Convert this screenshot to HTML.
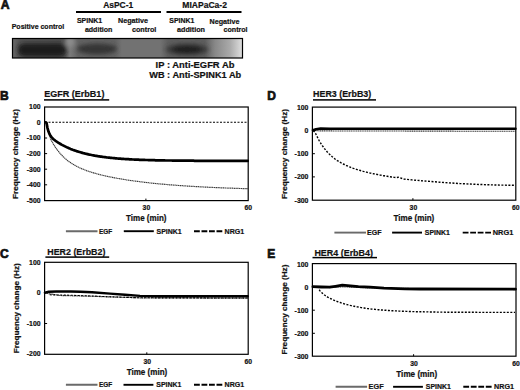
<!DOCTYPE html>
<html><head><meta charset="utf-8"><style>
html,body{margin:0;padding:0;background:#fff;}
body{width:520px;height:390px;overflow:hidden;}
svg{display:block;}
text{font-family:"Liberation Sans", sans-serif;font-weight:bold;fill:#111;stroke:#111;stroke-width:0.2px;}
</style></head><body>
<svg width="520" height="390" viewBox="0 0 520 390">
<rect width="520" height="390" fill="#fff"/>
<text x="0.8" y="9" font-size="12.2" style="stroke-width:0.7px">A</text>
<text x="11.7" y="28.8" font-size="7.3" textLength="52.5" lengthAdjust="spacingAndGlyphs">Positive control</text>
<text x="103.2" y="7.6" font-size="8.8" textLength="30" lengthAdjust="spacingAndGlyphs">AsPC-1</text>
<text x="182.3" y="7.6" font-size="8.8" textLength="44.6" lengthAdjust="spacingAndGlyphs">MIAPaCa-2</text>
<rect x="76" y="11" width="85" height="2" fill="#000"/>
<rect x="166.5" y="11" width="75" height="2" fill="#000"/>
<text x="76.9" y="22.8" font-size="7" textLength="25.3" lengthAdjust="spacingAndGlyphs">SPINK1</text>
<text x="84.9" y="31.7" font-size="7" textLength="27.4" lengthAdjust="spacingAndGlyphs">addition</text>
<text x="118" y="23" font-size="7" textLength="30" lengthAdjust="spacingAndGlyphs">Negative</text>
<text x="132" y="31.7" font-size="7" textLength="24.3" lengthAdjust="spacingAndGlyphs">control</text>
<text x="169.3" y="23.3" font-size="7" textLength="25" lengthAdjust="spacingAndGlyphs">SPINK1</text>
<text x="177" y="32" font-size="7" textLength="28" lengthAdjust="spacingAndGlyphs">addition</text>
<text x="209.6" y="23.5" font-size="7" textLength="29.8" lengthAdjust="spacingAndGlyphs">Negative</text>
<text x="223.6" y="31.7" font-size="7" textLength="24" lengthAdjust="spacingAndGlyphs">control</text>
<defs>
<linearGradient id="bg" gradientUnits="userSpaceOnUse" x1="12" x2="243" y1="0" y2="0">
<stop offset="0.000" stop-color="#6a6a6a"/>
<stop offset="0.035" stop-color="#555"/>
<stop offset="0.225" stop-color="#505050"/>
<stop offset="0.251" stop-color="#7a7a7a"/>
<stop offset="0.286" stop-color="#626262"/>
<stop offset="0.446" stop-color="#626262"/>
<stop offset="0.476" stop-color="#727272"/>
<stop offset="0.641" stop-color="#727272"/>
<stop offset="0.675" stop-color="#5e5e5e"/>
<stop offset="0.835" stop-color="#5e5e5e"/>
<stop offset="0.879" stop-color="#888"/>
<stop offset="0.944" stop-color="#aaa"/>
<stop offset="1.000" stop-color="#e2e2e2"/>
</linearGradient>
<filter id="bl" x="-20%" y="-50%" width="140%" height="200%"><feGaussianBlur stdDeviation="2"/></filter>
<clipPath id="bc"><rect x="12.5" y="38.5" width="230" height="19.5"/></clipPath>
</defs>
<g clip-path="url(#bc)"><rect x="12" y="38" width="231" height="20" fill="url(#bg)"/><g filter="url(#bl)"><ellipse cx="70" cy="42" rx="4.5" ry="5" fill="#8c8c8c"/><rect x="18" y="43.5" width="48" height="13" rx="6" fill="#1a1a1a"/><ellipse cx="97" cy="49" rx="20" ry="5.5" fill="#363636"/><ellipse cx="187" cy="49.5" rx="21" ry="6" fill="#383838"/><ellipse cx="187" cy="49.5" rx="15" ry="3.5" fill="#1e1e1e"/></g></g>
<rect x="12.5" y="38.5" width="230" height="19.5" fill="none" stroke="#000" stroke-width="1.2"/>
<text x="155.6" y="67.5" font-size="8.6" textLength="78.8" lengthAdjust="spacingAndGlyphs">IP : Anti-EGFR Ab</text>
<text x="149.2" y="77.7" font-size="8.6" textLength="92" lengthAdjust="spacingAndGlyphs">WB : Anti-SPINK1 Ab</text>
<text x="0" y="99.8" font-size="12" style="stroke-width:0.7px">B</text>
<text x="44.2" y="97.1" font-size="8.7" textLength="60.2" lengthAdjust="spacingAndGlyphs">EGFR (ErbB1)</text>
<rect x="44" y="99.15" width="65.2" height="1.5" fill="#000"/>
<polyline points="45.0,122.3 247.5,122.3" fill="none" stroke="#000" stroke-width="1.1" stroke-linejoin="round" stroke-linecap="round" stroke-dasharray="2 1.5" style="stroke-linecap:butt"/>
<polyline points="45.4,122.3 46.5,122.7 47.0,125.7 47.5,128.1 48.0,130.0 48.5,131.6 49.0,132.9 49.5,134.0 50.5,138.7 51.5,140.7 52.5,142.5 53.5,144.2 54.5,145.9 55.5,147.4 56.5,148.9 57.5,150.2 58.5,151.5 59.5,152.7 60.5,153.9 61.5,155.0 62.5,156.0 63.5,157.0 64.5,157.9 65.5,158.8 66.5,159.7 67.5,160.5 68.5,161.2 69.5,161.9 70.5,162.6 71.5,163.3 72.5,163.9 73.5,164.5 74.5,165.1 75.5,165.7 76.5,166.2 77.5,166.7 78.5,167.2 79.5,167.7 80.5,168.1 81.5,168.6 82.5,169.0 83.5,169.4 84.5,169.8 85.5,170.2 86.5,170.6 87.5,170.9 88.5,171.3 89.5,171.6 90.5,171.9 91.5,172.2 92.5,172.6 93.5,172.9 94.5,173.2 95.5,173.4 96.5,173.7 97.5,174.0 98.5,174.3 99.5,174.5 100.5,174.8 101.5,175.0 102.5,175.3 103.5,175.5 104.5,175.7 105.5,176.0 106.5,176.2 107.5,176.4 108.5,176.6 109.5,176.8 110.5,177.0 111.5,177.2 112.5,177.4 113.5,177.6 114.5,177.8 115.5,178.0 116.5,178.2 117.5,178.4 118.5,178.5 119.5,178.7 120.5,178.9 121.5,179.0 122.5,179.2 123.5,179.4 124.5,179.5 125.5,179.7 126.5,179.9 127.5,180.0 128.5,180.2 129.5,180.3 130.5,180.5 131.5,180.6 132.5,180.7 133.5,180.9 134.5,181.0 135.5,181.1 136.5,181.3 137.5,181.4 138.5,181.5 139.5,181.7 140.5,181.8 141.5,181.9 142.5,182.0 143.5,182.2 144.5,182.3 145.5,182.4 146.5,182.5 147.5,182.6 148.5,182.7 149.5,182.9 150.5,183.0 151.5,183.1 152.5,183.2 153.5,183.3 154.5,183.4 155.5,183.5 156.5,183.6 157.5,183.7 158.5,183.8 159.5,183.9 160.5,184.0 161.5,184.1 162.5,184.2 163.5,184.2 164.5,184.3 165.5,184.4 166.5,184.5 167.5,184.6 168.5,184.7 169.5,184.8 170.5,184.8 171.5,184.9 172.5,185.0 173.5,185.1 174.5,185.2 175.5,185.2 176.5,185.3 177.5,185.4 178.5,185.5 179.5,185.5 180.5,185.6 181.5,185.7 182.5,185.7 183.5,185.8 184.5,185.9 185.5,185.9 186.5,186.0 187.5,186.1 188.5,186.1 189.5,186.2 190.5,186.3 191.5,186.3 192.5,186.4 193.5,186.4 194.5,186.5 195.5,186.6 196.5,186.6 197.5,186.7 198.5,186.7 199.5,186.8 200.5,186.8 201.5,186.9 202.5,186.9 203.5,187.0 204.5,187.1 205.5,187.1 206.5,187.2 207.5,187.2 208.5,187.3 209.5,187.3 210.5,187.3 211.5,187.4 212.5,187.4 213.5,187.5 214.5,187.5 215.5,187.6 216.5,187.6 217.5,187.7 218.5,187.7 219.5,187.7 220.5,187.8 221.5,187.8 222.5,187.9 223.5,187.9 224.5,187.9 225.5,188.0 226.5,188.0 227.5,188.1 228.5,188.1 229.5,188.1 230.5,188.2 231.5,188.2 232.5,188.2 233.5,188.3 234.5,188.3 235.5,188.3 236.5,188.4 237.5,188.4 238.5,188.4 239.5,188.5 240.5,188.5 241.5,188.5 242.5,188.6 243.5,188.6 244.5,188.6 245.5,188.6 246.5,188.7 247.5,188.7 247.7,188.7" fill="none" stroke="#3c3c3c" stroke-width="1.2" stroke-linejoin="round" stroke-linecap="round" stroke-dasharray="1.3 0.5" style="stroke-linecap:butt"/>
<polyline points="45.4,122.3 46.5,122.7 47.5,128.1 48.5,131.6 49.5,134.0 50.5,135.8 51.5,137.1 52.5,138.2 53.5,139.2 54.5,140.0 55.5,140.8 56.5,141.5 57.5,142.2 58.5,142.8 59.5,143.4 60.5,144.0 61.5,144.6 62.5,145.1 63.5,145.6 64.5,146.1 65.5,146.6 66.5,147.1 67.5,147.6 68.5,148.0 69.5,148.4 70.5,148.9 71.5,149.3 72.5,149.7 73.5,150.0 74.5,150.4 75.5,150.7 76.5,151.1 77.5,151.4 78.5,151.7 79.5,152.0 80.5,152.3 81.5,152.6 82.5,152.9 83.5,153.2 84.5,153.4 85.5,153.7 86.5,153.9 87.5,154.1 88.5,154.4 89.5,154.6 90.5,154.8 91.5,155.0 92.5,155.2 93.5,155.4 94.5,155.6 95.5,155.8 96.5,155.9 97.5,156.1 98.5,156.3 99.5,156.4 100.5,156.6 101.5,156.7 102.5,156.8 103.5,157.0 104.5,157.1 105.5,157.2 106.5,157.4 107.5,157.5 108.5,157.6 109.5,157.7 110.5,157.8 111.5,157.9 112.5,158.0 113.5,158.1 114.5,158.2 115.5,158.3 116.5,158.4 117.5,158.5 118.5,158.6 119.5,158.6 120.5,158.7 121.5,158.8 122.5,158.9 123.5,158.9 124.5,159.0 125.5,159.1 126.5,159.1 127.5,159.2 128.5,159.2 129.5,159.3 130.5,159.3 131.5,159.4 132.5,159.5 133.5,159.5 134.5,159.6 135.5,159.6 136.5,159.6 137.5,159.7 138.5,159.7 139.5,159.8 140.5,159.8 141.5,159.8 142.5,159.9 143.5,159.9 144.5,159.9 145.5,160.0 146.5,160.0 147.5,160.0 148.5,160.1 149.5,160.1 150.5,160.1 151.5,160.2 152.5,160.2 153.5,160.2 154.5,160.2 155.5,160.3 156.5,160.3 157.5,160.3 158.5,160.3 159.5,160.3 160.5,160.4 161.5,160.4 162.5,160.4 163.5,160.4 164.5,160.4 165.5,160.5 166.5,160.5 167.5,160.5 168.5,160.5 169.5,160.5 170.5,160.5 171.5,160.5 172.5,160.6 173.5,160.6 174.5,160.6 175.5,160.6 176.5,160.6 177.5,160.6 178.5,160.6 179.5,160.6 180.5,160.6 181.5,160.7 182.5,160.7 183.5,160.7 184.5,160.7 185.5,160.7 186.5,160.7 187.5,160.7 188.5,160.7 189.5,160.7 190.5,160.7 191.5,160.7 192.5,160.7 193.5,160.7 194.5,160.8 195.5,160.8 196.5,160.8 197.5,160.8 198.5,160.8 199.5,160.8 200.5,160.8 201.5,160.8 202.5,160.8 203.5,160.8 204.5,160.8 205.5,160.8 206.5,160.8 207.5,160.8 208.5,160.8 209.5,160.8 210.5,160.8 211.5,160.8 212.5,160.8 213.5,160.8 214.5,160.8 215.5,160.8 216.5,160.9 217.5,160.9 218.5,160.9 219.5,160.9 220.5,160.9 221.5,160.9 222.5,160.9 223.5,160.9 224.5,160.9 225.5,160.9 226.5,160.9 227.5,160.9 228.5,160.9 229.5,160.9 230.5,160.9 231.5,160.9 232.5,160.9 233.5,160.9 234.5,160.9 235.5,160.9 236.5,160.9 237.5,160.9 238.5,160.9 239.5,160.9 240.5,160.9 241.5,160.9 242.5,160.9 243.5,160.9 244.5,160.9 245.5,160.9 246.5,160.9 247.5,160.9 247.7,160.9" fill="none" stroke="#000" stroke-width="2.7" stroke-linejoin="round" stroke-linecap="round"/>
<rect x="44.6" y="107" width="203.6" height="93.6" fill="none" stroke="#000" stroke-width="1.2"/>
<text x="40.6" y="109.2" font-size="6.9" text-anchor="end">100</text>
<line x1="44.6" y1="122.4" x2="47.1" y2="122.4" stroke="#000" stroke-width="1"/>
<text x="40.6" y="124.8" font-size="6.9" text-anchor="end">0</text>
<line x1="44.6" y1="138.0" x2="47.1" y2="138.0" stroke="#000" stroke-width="1"/>
<text x="40.6" y="140.4" font-size="6.9" text-anchor="end">-100</text>
<line x1="44.6" y1="153.6" x2="47.1" y2="153.6" stroke="#000" stroke-width="1"/>
<text x="40.6" y="156.0" font-size="6.9" text-anchor="end">-200</text>
<line x1="44.6" y1="169.2" x2="47.1" y2="169.2" stroke="#000" stroke-width="1"/>
<text x="40.6" y="171.6" font-size="6.9" text-anchor="end">-300</text>
<line x1="44.6" y1="184.8" x2="47.1" y2="184.8" stroke="#000" stroke-width="1"/>
<text x="40.6" y="187.2" font-size="6.9" text-anchor="end">-400</text>
<text x="40.6" y="202.8" font-size="6.9" text-anchor="end">-500</text>
<line x1="145.9" y1="200.6" x2="145.9" y2="198.6" stroke="#000" stroke-width="1"/>
<text x="146.4" y="209.8" font-size="6.8" text-anchor="middle">30</text>
<text x="248.2" y="209.8" font-size="6.8" text-anchor="middle">60</text>
<text x="126" y="220.8" font-size="8.4" textLength="40.5" lengthAdjust="spacingAndGlyphs">Time (min)</text>
<text transform="translate(18.1,154.0) rotate(-90)" x="0" y="0" font-size="7.9" text-anchor="middle" textLength="90" lengthAdjust="spacingAndGlyphs">Frequency change (Hz)</text>
<line x1="65.9" y1="231.2" x2="97.5" y2="231.2" stroke="#6a6a6a" stroke-width="1.9"/>
<text x="99" y="233.6" font-size="6.9" textLength="13.2" lengthAdjust="spacingAndGlyphs">EGF</text>
<line x1="123.8" y1="231.2" x2="153.8" y2="231.2" stroke="#000" stroke-width="1.9"/>
<text x="156.5" y="233.6" font-size="6.9" textLength="25.2" lengthAdjust="spacingAndGlyphs">SPINK1</text>
<line x1="194" y1="231.2" x2="223.5" y2="231.2" stroke="#000" stroke-width="1.9" stroke-dasharray="5.8 1.7"/>
<text x="224.6" y="233.6" font-size="6.9" textLength="19.6" lengthAdjust="spacingAndGlyphs">NRG1</text>
<text x="0" y="258" font-size="12" style="stroke-width:0.7px">C</text>
<text x="47.3" y="255.2" font-size="8.7" textLength="58.1" lengthAdjust="spacingAndGlyphs">HER2 (ErbB2)</text>
<rect x="45.4" y="256.34999999999997" width="63.800000000000004" height="1.5" fill="#000"/>
<polyline points="45.0,293.0 60.0,295.5 90.0,296.2 120.0,297.2 140.0,297.8 247.7,298.2" fill="none" stroke="#3c3c3c" stroke-width="1.2" stroke-linejoin="round" stroke-linecap="round" stroke-dasharray="1.3 0.5" style="stroke-linecap:butt"/>
<polyline points="49.7,294.8 70.0,295.2 92.0,296.0 110.0,296.8 140.0,297.8 247.7,298.0" fill="none" stroke="#000" stroke-width="1.1" stroke-linejoin="round" stroke-linecap="round" stroke-dasharray="2 1.5" style="stroke-linecap:butt"/>
<polyline points="44.9,292.6 48.7,291.7 56.4,291.5 70.8,291.5 80.5,291.8 92.0,292.3 110.0,293.6 125.0,294.8 140.0,295.9 160.0,296.2 247.7,296.2" fill="none" stroke="#000" stroke-width="2.4" stroke-linejoin="round" stroke-linecap="round"/>
<rect x="44.6" y="262.3" width="203.6" height="92.0" fill="none" stroke="#000" stroke-width="1.2"/>
<text x="40.6" y="264.9" font-size="6.9" text-anchor="end">100</text>
<line x1="44.6" y1="293.0" x2="47.1" y2="293.0" stroke="#000" stroke-width="1"/>
<text x="40.6" y="295.4" font-size="6.9" text-anchor="end">0</text>
<line x1="44.6" y1="323.5" x2="47.1" y2="323.5" stroke="#000" stroke-width="1"/>
<text x="40.6" y="325.9" font-size="6.9" text-anchor="end">-100</text>
<text x="40.6" y="356.4" font-size="6.9" text-anchor="end">-200</text>
<line x1="146.8" y1="354.3" x2="146.8" y2="352.3" stroke="#000" stroke-width="1"/>
<text x="147.3" y="364.1" font-size="6.8" text-anchor="middle">30</text>
<text x="248.2" y="364.1" font-size="6.8" text-anchor="middle">60</text>
<text x="126.7" y="374.8" font-size="8.4" textLength="40.6" lengthAdjust="spacingAndGlyphs">Time (min)</text>
<text transform="translate(19.3,308.3) rotate(-90)" x="0" y="0" font-size="7.9" text-anchor="middle" textLength="90" lengthAdjust="spacingAndGlyphs">Frequency change (Hz)</text>
<line x1="65.9" y1="384.8" x2="97.5" y2="384.8" stroke="#6a6a6a" stroke-width="1.9"/>
<text x="99" y="387.2" font-size="6.9" textLength="13.2" lengthAdjust="spacingAndGlyphs">EGF</text>
<line x1="123.5" y1="384.8" x2="153.4" y2="384.8" stroke="#000" stroke-width="1.9"/>
<text x="156.3" y="387.2" font-size="6.9" textLength="25.2" lengthAdjust="spacingAndGlyphs">SPINK1</text>
<line x1="194" y1="384.8" x2="223.5" y2="384.8" stroke="#000" stroke-width="1.9" stroke-dasharray="5.8 1.7"/>
<text x="224.6" y="387.2" font-size="6.9" textLength="19.6" lengthAdjust="spacingAndGlyphs">NRG1</text>
<text x="267.3" y="99.8" font-size="12" style="stroke-width:0.7px">D</text>
<text x="313.1" y="97.1" font-size="8.7" textLength="58.1" lengthAdjust="spacingAndGlyphs">HER3 (ErbB3)</text>
<rect x="313" y="99.15" width="63" height="1.5" fill="#000"/>
<polyline points="312.9,130.4 320.0,130.9 515.5,131.3" fill="none" stroke="#3c3c3c" stroke-width="1.1" stroke-linejoin="round" stroke-linecap="round" stroke-dasharray="1.3 0.5" style="stroke-linecap:butt"/>
<polyline points="313.2,130.6 315.3,132.8 316.3,135.0 317.3,137.0 318.3,138.9 319.3,140.8 320.3,142.5 321.3,144.1 322.3,145.6 323.3,147.0 324.3,148.4 325.3,149.6 326.3,150.8 327.3,152.0 328.3,153.1 329.3,154.1 330.3,155.0 331.3,155.9 332.3,156.8 333.3,157.6 334.3,158.4 335.3,159.2 336.3,159.9 337.3,160.6 338.3,161.2 339.3,161.8 340.3,162.4 341.3,163.0 342.3,163.5 343.3,164.0 344.3,164.5 345.3,165.0 346.3,165.5 347.3,165.9 348.3,166.4 349.3,166.8 350.3,167.2 351.3,167.6 352.3,167.9 353.3,168.3 354.3,168.6 355.3,169.0 356.3,169.3 357.3,169.6 358.3,169.9 359.3,170.2 360.3,170.5 361.3,170.8 362.3,171.1 363.3,171.4 364.3,171.6 365.3,171.9 366.3,172.1 367.3,172.4 368.3,172.6 369.3,172.8 370.3,173.1 371.3,173.3 372.3,173.5 373.3,173.7 374.3,173.9 375.3,174.1 376.3,174.3 377.3,174.5 378.3,174.7 379.3,174.9 380.3,175.1 381.3,175.3 382.3,175.5 383.3,175.7 384.3,175.8 385.3,176.0 386.3,176.2 387.3,176.3 388.3,176.5 389.3,176.6 390.3,176.8 391.3,177.0 392.3,177.1 393.3,177.3 394.3,177.4 395.3,177.5 396.0,177.6 398.5,177.3 404.0,179.1 412.0,179.9 420.0,180.6 440.0,182.2 460.0,183.6 480.0,184.5 500.0,185.1 515.0,185.3" fill="none" stroke="#000" stroke-width="1.4" stroke-linejoin="round" stroke-linecap="round" stroke-dasharray="2 1.5" style="stroke-linecap:butt"/>
<polyline points="312.9,130.2 316.0,129.2 320.6,128.5 330.0,128.7 515.5,128.7" fill="none" stroke="#000" stroke-width="2.5" stroke-linejoin="round" stroke-linecap="round"/>
<rect x="312.4" y="107.1" width="203.39999999999998" height="93.1" fill="none" stroke="#000" stroke-width="1.2"/>
<text x="308.4" y="109.6" font-size="6.9" text-anchor="end">100</text>
<line x1="312.4" y1="130.4" x2="314.9" y2="130.4" stroke="#000" stroke-width="1"/>
<text x="308.4" y="132.8" font-size="6.9" text-anchor="end">0</text>
<line x1="312.4" y1="153.7" x2="314.9" y2="153.7" stroke="#000" stroke-width="1"/>
<text x="308.4" y="156.1" font-size="6.9" text-anchor="end">-100</text>
<line x1="312.4" y1="176.9" x2="314.9" y2="176.9" stroke="#000" stroke-width="1"/>
<text x="308.4" y="179.3" font-size="6.9" text-anchor="end">-200</text>
<text x="308.4" y="202.6" font-size="6.9" text-anchor="end">-300</text>
<line x1="412.9" y1="200.2" x2="412.9" y2="198.2" stroke="#000" stroke-width="1"/>
<text x="413.4" y="210" font-size="6.8" text-anchor="middle">30</text>
<text x="515.8" y="210" font-size="6.8" text-anchor="middle">60</text>
<text x="393.5" y="221" font-size="8.4" textLength="40.8" lengthAdjust="spacingAndGlyphs">Time (min)</text>
<text transform="translate(286.8,154.0) rotate(-90)" x="0" y="0" font-size="7.9" text-anchor="middle" textLength="90" lengthAdjust="spacingAndGlyphs">Frequency change (Hz)</text>
<line x1="334.4" y1="232.6" x2="366" y2="232.6" stroke="#6a6a6a" stroke-width="1.9"/>
<text x="367.1" y="235.0" font-size="6.9" textLength="14.4" lengthAdjust="spacingAndGlyphs">EGF</text>
<line x1="392.1" y1="232.6" x2="422" y2="232.6" stroke="#000" stroke-width="1.9"/>
<text x="424.8" y="235.0" font-size="6.9" textLength="25" lengthAdjust="spacingAndGlyphs">SPINK1</text>
<line x1="462.7" y1="232.6" x2="491.6" y2="232.6" stroke="#000" stroke-width="1.9" stroke-dasharray="5.8 1.7"/>
<text x="492.7" y="235.0" font-size="6.9" textLength="20.6" lengthAdjust="spacingAndGlyphs">NRG1</text>
<text x="267.3" y="257.7" font-size="12" style="stroke-width:0.7px">E</text>
<text x="314.4" y="255.8" font-size="8.7" textLength="58.6" lengthAdjust="spacingAndGlyphs">HER4 (ErbB4)</text>
<rect x="312.5" y="256.84999999999997" width="64.5" height="1.5" fill="#000"/>
<polyline points="312.9,287.0 330.0,287.6 342.0,286.8 352.0,287.2 370.0,288.0 515.5,289.6" fill="none" stroke="#3c3c3c" stroke-width="1.1" stroke-linejoin="round" stroke-linecap="round" stroke-dasharray="1.3 0.5" style="stroke-linecap:butt"/>
<polyline points="319.2,289.8 320.2,291.1 321.2,292.2 322.2,293.1 323.2,294.0 324.2,294.8 325.2,295.5 326.2,296.2 327.2,296.8 328.2,297.4 329.2,297.9 330.2,298.5 331.2,298.9 332.2,299.4 333.2,299.9 334.2,300.3 335.2,300.7 336.2,301.1 337.2,301.5 338.2,301.8 339.2,302.2 340.2,302.5 341.2,302.9 342.2,303.2 343.2,303.5 344.2,303.8 345.2,304.1 346.2,304.4 347.2,304.6 348.2,304.9 349.2,305.1 350.2,305.4 351.2,305.6 352.2,305.8 353.2,306.1 354.2,306.3 355.2,306.5 356.2,306.7 357.2,306.9 358.2,307.0 359.2,307.2 360.2,307.4 361.2,307.6 362.2,307.7 363.2,307.9 364.2,308.0 365.2,308.2 366.2,308.3 367.2,308.5 368.2,308.6 369.2,308.7 370.2,308.8 371.2,309.0 372.2,309.1 373.2,309.2 374.2,309.3 375.2,309.4 376.2,309.5 377.2,309.6 378.2,309.7 379.2,309.8 380.2,309.9 381.2,310.0 382.2,310.0 383.2,310.1 384.2,310.2 385.2,310.3 386.2,310.3 387.2,310.4 388.2,310.5 389.2,310.5 390.2,310.6 391.2,310.7 392.2,310.7 393.2,310.8 394.2,310.8 395.2,310.9 396.2,310.9 397.2,311.0 398.2,311.0 399.2,311.1 400.2,311.1 401.2,311.2 402.2,311.2 403.2,311.3 404.2,311.3 405.2,311.3 406.2,311.4 407.2,311.4 408.2,311.4 409.2,311.5 410.2,311.5 411.2,311.5 412.2,311.6 413.2,311.6 414.2,311.6 415.2,311.7 416.2,311.7 417.2,311.7 418.2,311.7 419.2,311.8 420.2,311.8 421.2,311.8 422.2,311.8 423.2,311.8 424.2,311.9 425.2,311.9 426.2,311.9 427.2,311.9 428.2,311.9 429.2,312.0 430.2,312.0 431.2,312.0 432.2,312.0 433.2,312.0 434.2,312.0 435.2,312.0 436.2,312.1 437.2,312.1 438.2,312.1 439.2,312.1 440.2,312.1 441.2,312.1 442.2,312.1 443.2,312.1 444.2,312.1 445.2,312.2 446.2,312.2 447.2,312.2 448.2,312.2 449.2,312.2 450.2,312.2 451.2,312.2 452.2,312.2 453.2,312.2 454.2,312.2 455.2,312.2 456.2,312.2 457.2,312.3 458.2,312.3 459.2,312.3 460.2,312.3 461.2,312.3 462.2,312.3 463.2,312.3 464.2,312.3 465.2,312.3 466.2,312.3 467.2,312.3 468.2,312.3 469.2,312.3 470.2,312.3 471.2,312.3 472.2,312.3 473.2,312.3 474.2,312.3 475.2,312.3 476.2,312.3 477.2,312.4 478.2,312.4 479.2,312.4 480.2,312.4 481.2,312.4 482.2,312.4 483.2,312.4 484.2,312.4 485.2,312.4 486.2,312.4 487.2,312.4 488.2,312.4 489.2,312.4 490.2,312.4 491.2,312.4 492.2,312.4 493.2,312.4 494.2,312.4 495.2,312.4 496.2,312.4 497.2,312.4 498.2,312.4 499.2,312.4 500.2,312.4 501.2,312.4 502.2,312.4 503.2,312.4 504.2,312.4 505.2,312.4 506.2,312.4 507.2,312.4 508.2,312.4 509.2,312.4 510.2,312.4 511.2,312.4 512.2,312.4 513.2,312.4 514.2,312.4 515.0,312.4" fill="none" stroke="#000" stroke-width="1.4" stroke-linejoin="round" stroke-linecap="round" stroke-dasharray="2 1.5" style="stroke-linecap:butt"/>
<polyline points="312.9,286.7 321.5,287.0 329.6,287.2 335.4,286.3 342.3,285.2 350.4,285.8 358.4,286.7 370.0,287.2 384.0,288.1 405.2,288.8 420.0,289.0 515.5,289.2" fill="none" stroke="#000" stroke-width="2.8" stroke-linejoin="round" stroke-linecap="round"/>
<rect x="312.4" y="263.6" width="203.60000000000002" height="92.59999999999997" fill="none" stroke="#000" stroke-width="1.2"/>
<text x="308.4" y="266.5" font-size="6.9" text-anchor="end">100</text>
<line x1="312.4" y1="287.2" x2="314.9" y2="287.2" stroke="#000" stroke-width="1"/>
<text x="308.4" y="289.6" font-size="6.9" text-anchor="end">0</text>
<line x1="312.4" y1="310.2" x2="314.9" y2="310.2" stroke="#000" stroke-width="1"/>
<text x="308.4" y="312.6" font-size="6.9" text-anchor="end">-100</text>
<line x1="312.4" y1="333.3" x2="314.9" y2="333.3" stroke="#000" stroke-width="1"/>
<text x="308.4" y="335.7" font-size="6.9" text-anchor="end">-200</text>
<text x="308.4" y="358.8" font-size="6.9" text-anchor="end">-300</text>
<line x1="413.6" y1="356.2" x2="413.6" y2="354.2" stroke="#000" stroke-width="1"/>
<text x="414.1" y="366" font-size="6.8" text-anchor="middle">30</text>
<text x="516" y="366" font-size="6.8" text-anchor="middle">60</text>
<text x="396.3" y="377.1" font-size="8.4" textLength="41" lengthAdjust="spacingAndGlyphs">Time (min)</text>
<text transform="translate(287.3,309.6) rotate(-90)" x="0" y="0" font-size="7.9" text-anchor="middle" textLength="90" lengthAdjust="spacingAndGlyphs">Frequency change (Hz)</text>
<line x1="335.6" y1="386.8" x2="367.1" y2="386.8" stroke="#6a6a6a" stroke-width="1.9"/>
<text x="368.6" y="389.2" font-size="6.9" textLength="15" lengthAdjust="spacingAndGlyphs">EGF</text>
<line x1="393.1" y1="386.8" x2="422.9" y2="386.8" stroke="#000" stroke-width="1.9"/>
<text x="425.8" y="389.2" font-size="6.9" textLength="25" lengthAdjust="spacingAndGlyphs">SPINK1</text>
<line x1="463.3" y1="386.8" x2="492.4" y2="386.8" stroke="#000" stroke-width="1.9" stroke-dasharray="5.8 1.7"/>
<text x="494" y="389.2" font-size="6.9" textLength="20" lengthAdjust="spacingAndGlyphs">NRG1</text>
</svg>
</body></html>
